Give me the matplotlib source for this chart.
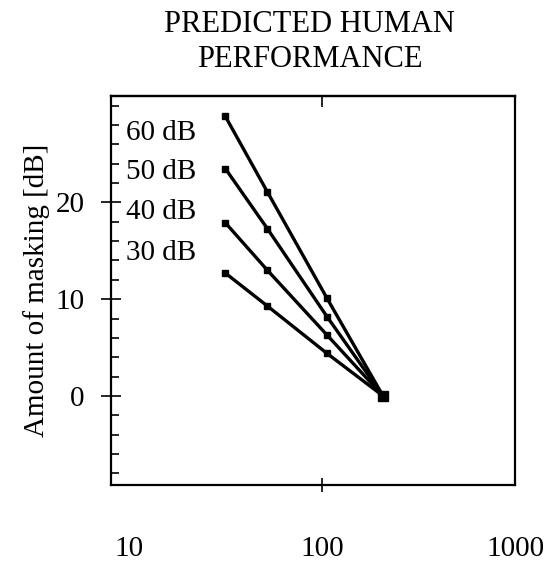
import matplotlib.pyplot as plt
from matplotlib.ticker import MultipleLocator, NullLocator

plt.rcParams['font.family'] = 'Liberation Serif'

freq = [31.5, 52, 106, 207]
levels = ['60 dB', '50 dB', '40 dB', '30 dB']
masking = {
    '60 dB': [28.9, 21.1, 10.1, 0.0],
    '50 dB': [23.5, 17.3, 8.2, 0.0],
    '40 dB': [17.9, 13.0, 6.3, 0.0],
    '30 dB': [12.7, 9.3, 4.4, 0.0],
}

fig = plt.figure(figsize=(5.48, 5.64), dpi=100)
ax = fig.add_axes([0.2026, 0.1401, 0.7372, 0.6897])

for lev in levels:
    ax.plot(freq, masking[lev], color='black', linewidth=2.4,
            marker='s', markersize=4.5)
ax.plot([freq[-1]], [0], marker='s', color='black', markersize=7.5)

label_y = [27.2, 23.1, 19.0, 14.8]
for lev, yy in zip(levels, label_y):
    ax.text(9.6, yy, lev, fontsize=21, va='center', ha='left')

ax.set_xscale('log')
ax.set_xlim(8.05, 1000)
ax.set_ylim(-9.2, 31)

ax.set_xticks([10, 100, 1000])
ax.set_xticklabels(['10', '100', '1000'])
ax.xaxis.set_minor_locator(NullLocator())
ax.set_yticks([0, 10, 20])
ax.yaxis.set_minor_locator(MultipleLocator(2))

ax.tick_params(axis='x', which='major', direction='inout', length=10,
               width=1.2, pad=32, labelsize=21)
ax.tick_params(axis='y', which='major', direction='inout', length=14,
               width=1.2, pad=12, labelsize=21)
ax.tick_params(axis='y', which='minor', direction='in', length=6, width=1.2)

# only the 100 tick shows a mark on the x axis
for t in ax.xaxis.get_major_ticks():
    if t.get_loc() != 100:
        t.tick1line.set_visible(False)

top = ax.secondary_xaxis('top')
top.set_xticks([100])
top.set_xticklabels([])
top.xaxis.set_minor_locator(NullLocator())
top.tick_params(direction='in', length=8, width=1.2)

for sp in ax.spines.values():
    sp.set_linewidth(1.6)
top.spines['top'].set_linewidth(1.6)

ax.set_ylabel('Amount of masking [dB]', fontsize=21, labelpad=4)
fig.text(0.565, 0.982, 'PREDICTED HUMAN\nPERFORMANCE', ha='center', va='top',
         fontsize=22, linespacing=1.25)

fig.savefig('out.png', dpi=100)
